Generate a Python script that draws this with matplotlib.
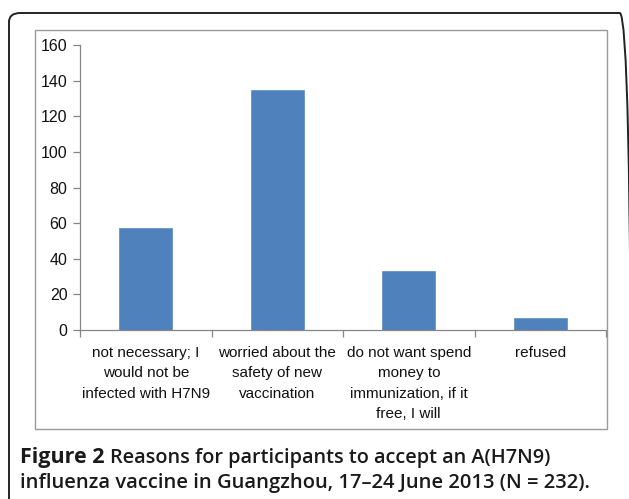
import matplotlib
matplotlib.use("Agg")
import matplotlib.pyplot as plt
from matplotlib.patches import FancyBboxPatch, Rectangle
from matplotlib import font_manager

categories = ["not necessary; I\nwould not be\ninfected with H7N9",
              "worried about the\nsafety of new\nvaccination",
              "do not want spend\nmoney to\nimmunization, if it\nfree, I will",
              "refused"]
values = [57, 135, 33, 7]
yticks = [0, 20, 40, 60, 80, 100, 120, 140, 160]

W, H = 629, 499
fig = plt.figure(figsize=(W/100, H/100), dpi=100)
fig.patch.set_facecolor("white")

def fx(x): return x / W
def fy(y): return 1 - y / H

names = {f.name for f in font_manager.fontManager.ttflist}
tick_font = "Liberation Sans Narrow" if "Liberation Sans Narrow" in names else "Liberation Sans"

# outer rounded frame
frame = FancyBboxPatch((fx(9), fy(510)), fx(631) - fx(9), fy(13) - fy(510),
                       boxstyle="round,pad=0,rounding_size=0.018",
                       transform=fig.transFigure, fill=False,
                       edgecolor="#222222", linewidth=1.4)
fig.add_artist(frame)

# inner chart box
box = Rectangle((fx(35), fy(429)), fx(607) - fx(35), fy(30) - fy(429),
                transform=fig.transFigure, fill=False,
                edgecolor="#9a9a9a", linewidth=1.0)
fig.add_artist(box)

ax = fig.add_axes([fx(80), fy(330), fx(606) - fx(80), fy(45) - fy(330)])
x = list(range(len(categories)))
ax.bar(x, values, width=0.40, color="#4F81BD", edgecolor="#5B8AC2", linewidth=0.5)
ax.set_xlim(-0.5, len(categories) - 0.5)
ax.set_ylim(0, 160)
ax.set_yticks(yticks)
ax.set_yticklabels([str(v) for v in yticks], fontfamily=tick_font, fontsize=11.5,
                   color="#111111")
for s in ["top", "right"]:
    ax.spines[s].set_visible(False)
for s in ["left", "bottom"]:
    ax.spines[s].set_color("#868686")
    ax.spines[s].set_linewidth(0.9)
ax.tick_params(axis="y", length=5, width=0.9, color="#868686", pad=4)
ax.set_xticks([i - 0.5 for i in range(len(categories) + 1)], minor=False)
ax.set_xticklabels([""] * (len(categories) + 1))
ax.tick_params(axis="x", length=5, width=0.9, color="#868686")
ax.set_facecolor("none")

# category labels
for i, lab in enumerate(categories):
    ax.text(i, -0.055, lab, transform=ax.get_xaxis_transform(), ha="center", va="top",
            fontfamily=tick_font, fontsize=11, linespacing=1.6,
            color="#111111")

# caption
cap_col = "#1a1a1a"
fig.text(fx(20), fy(463), "Figure 2", fontfamily="Open Sans", fontweight="bold",
         fontsize=15.5, color=cap_col, va="baseline", ha="left")
fig.text(fx(110), fy(463), "Reasons for participants to accept an A(H7N9)",
         fontfamily="Open Sans", fontweight="semibold", fontsize=14.3,
         color=cap_col, va="baseline", ha="left")
fig.text(fx(20), fy(488), "influenza vaccine in Guangzhou, 17\u201324 June 2013 (N = 232).",
         fontfamily="Open Sans", fontweight="semibold", fontsize=14.5,
         color=cap_col, va="baseline", ha="left")

fig.savefig("out.png", dpi=100)
